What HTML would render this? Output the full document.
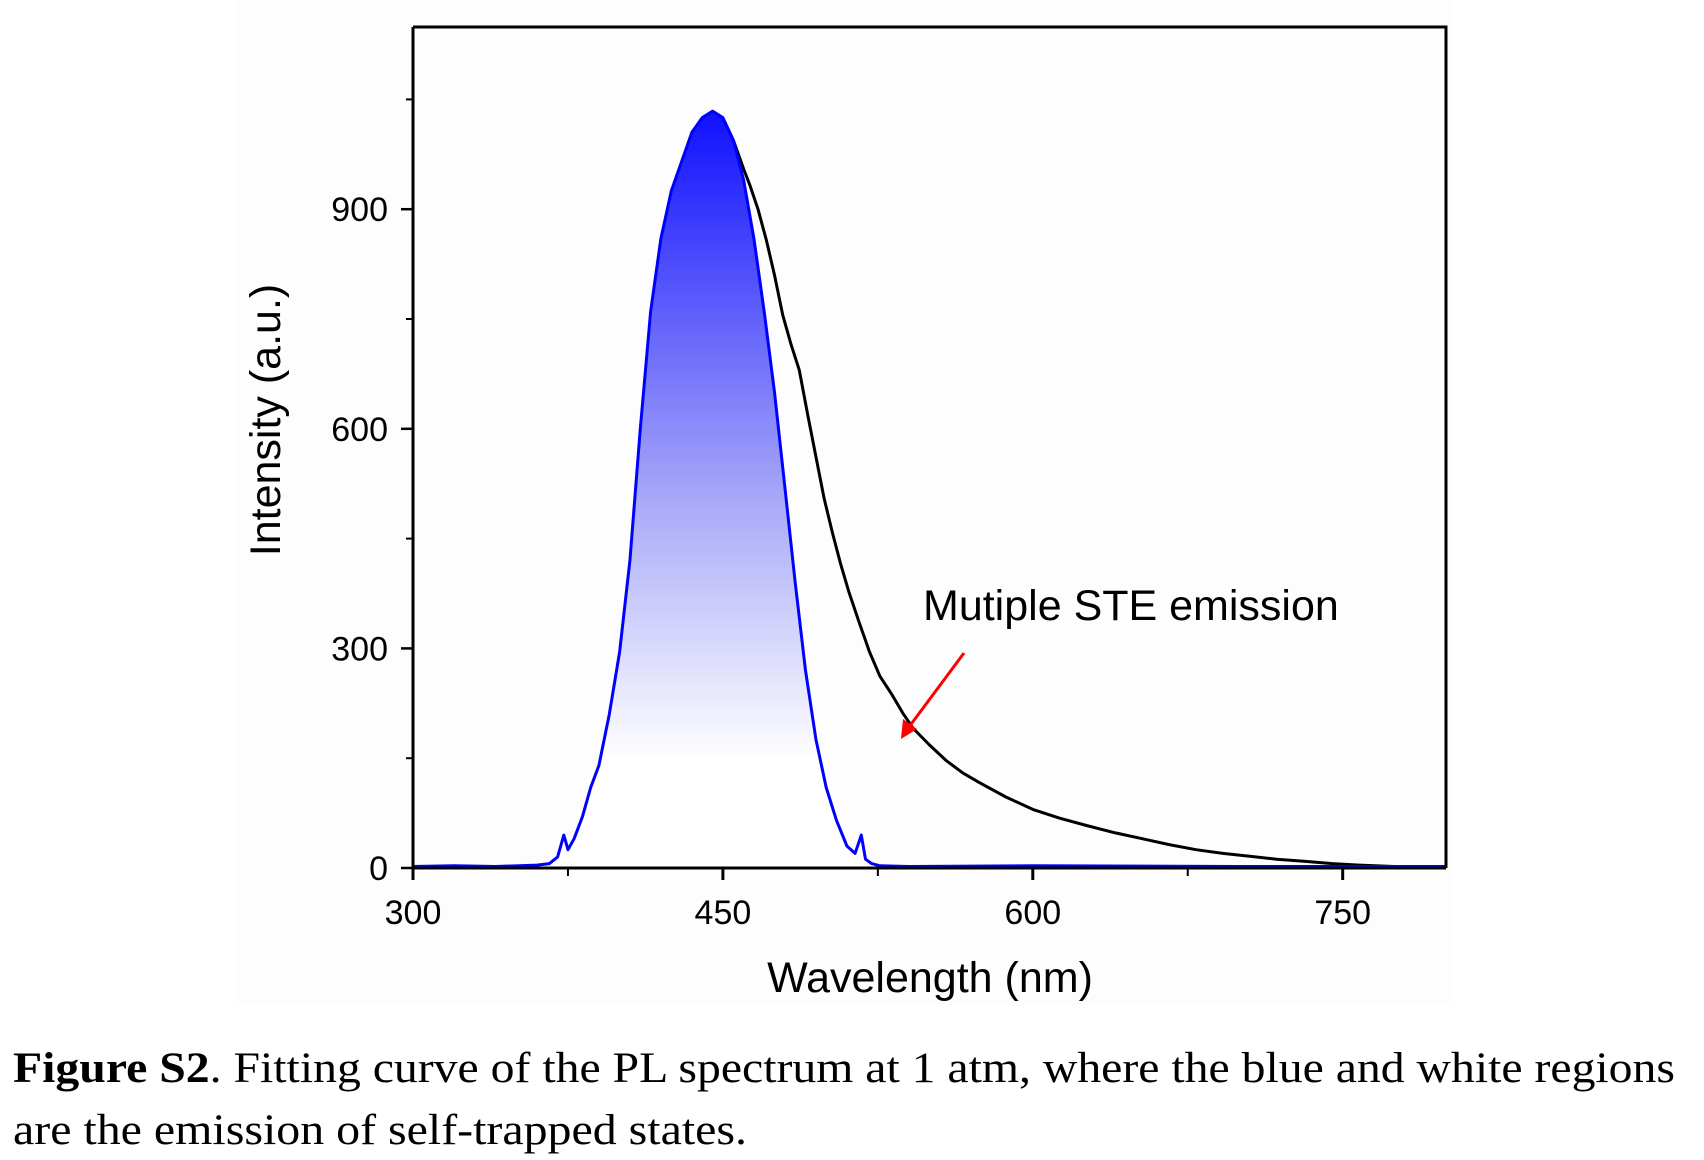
<!DOCTYPE html>
<html><head><meta charset="utf-8"><style>
html,body{margin:0;padding:0;background:#fff;}
svg{display:block;font-family:"Liberation Sans",Arial,sans-serif;}
.serif{font-family:"Liberation Serif","Times New Roman",serif;}
</style></head><body>
<svg id="chart" width="1704" height="1160" viewBox="0 0 1704 1160" xmlns="http://www.w3.org/2000/svg">
<defs>
<linearGradient id="blueGrad" gradientUnits="userSpaceOnUse" x1="0" y1="110" x2="0" y2="760">
<stop offset="0" stop-color="#1010ff"/>
<stop offset="0.6" stop-color="#a8a8f8"/>
<stop offset="1" stop-color="#ffffff"/>
</linearGradient>
</defs>
<rect x="236" y="0" width="1214" height="1005" fill="#fdfdfd"/>
<g id="plot"></g>
<text x="923" y="620" font-size="43" fill="#000">Mutiple STE emission</text>
<line x1="964" y1="653" x2="906" y2="731" stroke="#ff0000" stroke-width="3"/>
<polygon points="901,739 903,719 917,729" fill="#ff0000"/>
<text x="930" y="992" font-size="43" text-anchor="middle" fill="#000">Wavelength (nm)</text>
<text transform="translate(280,420) rotate(-90)" font-size="43" text-anchor="middle" fill="#000">Intensity (a.u.)</text>
<text class="serif" x="13" y="1082" font-size="43" textLength="1662" lengthAdjust="spacingAndGlyphs"><tspan font-weight="bold">Figure S2</tspan>. Fitting curve of the PL spectrum at 1 atm, where the blue and white regions</text>
<text class="serif" x="13" y="1144" font-size="43" textLength="734" lengthAdjust="spacingAndGlyphs">are the emission of self-trapped states.</text>
</svg>
<script>
const blueX = [300,320,340,360,366,370,373,375,378,382,386,390,395,400,405,410,415,420,425,430,435,440,445,450,455,460,465,470,475,480,485,490,495,500,505,510,514,517,519,522,526,540,600,700,800];
const blueY = [2,3,2,4,6,15,45,25,40,70,110,140,210,295,420,600,760,860,925,965,1005,1025,1034,1025,995,940,860,760,650,520,390,270,176,110,65,30,20,45,12,6,3,2,3,2,2];
const blackX = [455,460,463,467,471,475,479,483,487,491,495,499,503,507,511,516,521,526,532,537,542,550,558,566,574,587,600,613,626,640,653,666,679,692,705,718,732,745,758,775,800];
const blackY = [995,955,933,900,858,810,755,715,680,620,562,505,458,415,377,335,295,262,236,212,191,168,147,130,117,97,80,68,58,48,40,32,25,20,16,12,9,6,4,2,1];
const xTicks = [300,450,600,750];
const xMinor = [375,525,675];
const yTicks = [0,300,600,900];
const yMinor = [150,450,750,1050];

const X0=413, X1=1446, Y0=868, YT=27;
const xs = v => X0 + (v-300)*(X1-X0)/500;
const ys = v => Y0 - v*0.732;
const NS='http://www.w3.org/2000/svg';
const g=document.getElementById('plot');
function mk(tag, attrs){const e=document.createElementNS(NS,tag);for(const k in attrs)e.setAttribute(k,attrs[k]);g.appendChild(e);return e;}

let d='M'+xs(blueX[0])+','+ys(0);
blueX.forEach((x,i)=>{d+=' L'+xs(x).toFixed(1)+','+ys(blueY[i]).toFixed(1);});
d+=' L'+xs(blueX[blueX.length-1])+','+ys(0)+' Z';
const fill=mk('path',{d:d,fill:'url(#blueGrad)',stroke:'none'});



let db='';
blackX.forEach((x,i)=>{db+=(i?' L':'M')+xs(x).toFixed(1)+','+ys(blackY[i]).toFixed(1);});
const bl=mk('path',{d:db,fill:'none',stroke:'#000','stroke-width':3,'stroke-linejoin':'round'});



let du='';
blueX.forEach((x,i)=>{du+=(i?' L':'M')+xs(x).toFixed(1)+','+ys(blueY[i]).toFixed(1);});
const bu=mk('path',{d:du,fill:'none',stroke:'#0000ff','stroke-width':3,'stroke-linejoin':'round'});



const fr=mk('path',{d:`M${X0},${YT} L${X1},${YT} L${X1},${Y0}`,fill:'none',stroke:'#000','stroke-width':3});


const xa=mk('line',{x1:X0,y1:Y0,x2:X1,y2:Y0,stroke:'#000','stroke-width':3});


const ya=mk('line',{x1:X0,y1:YT,x2:X0,y2:Y0+12,stroke:'#000','stroke-width':3});



xTicks.forEach(v=>{
  const t=mk('line',{x1:xs(v),y1:Y0,x2:xs(v),y2:Y0+12,stroke:'#000','stroke-width':3});
  
  
  const l=mk('text',{x:xs(v),y:Y0+56,'font-size':34,'text-anchor':'middle',fill:'#000'});
  l.textContent=v;
  
  
});
xMinor.forEach(v=>{
  const t=mk('line',{x1:xs(v),y1:Y0,x2:xs(v),y2:Y0+8,stroke:'#000','stroke-width':2});
  
  
});
yTicks.forEach(v=>{
  const t=mk('line',{x1:X0-12,y1:ys(v),x2:X0,y2:ys(v),stroke:'#000','stroke-width':2.5});
  
  
  const l=mk('text',{x:X0-25,y:ys(v)+12,'font-size':34,'text-anchor':'end',fill:'#000'});
  l.textContent=v;
  
  
});
yMinor.forEach(v=>{
  const t=mk('line',{x1:X0-7,y1:ys(v),x2:X0,y2:ys(v),stroke:'#000','stroke-width':2});
  
  
});
</script>
</body></html>
